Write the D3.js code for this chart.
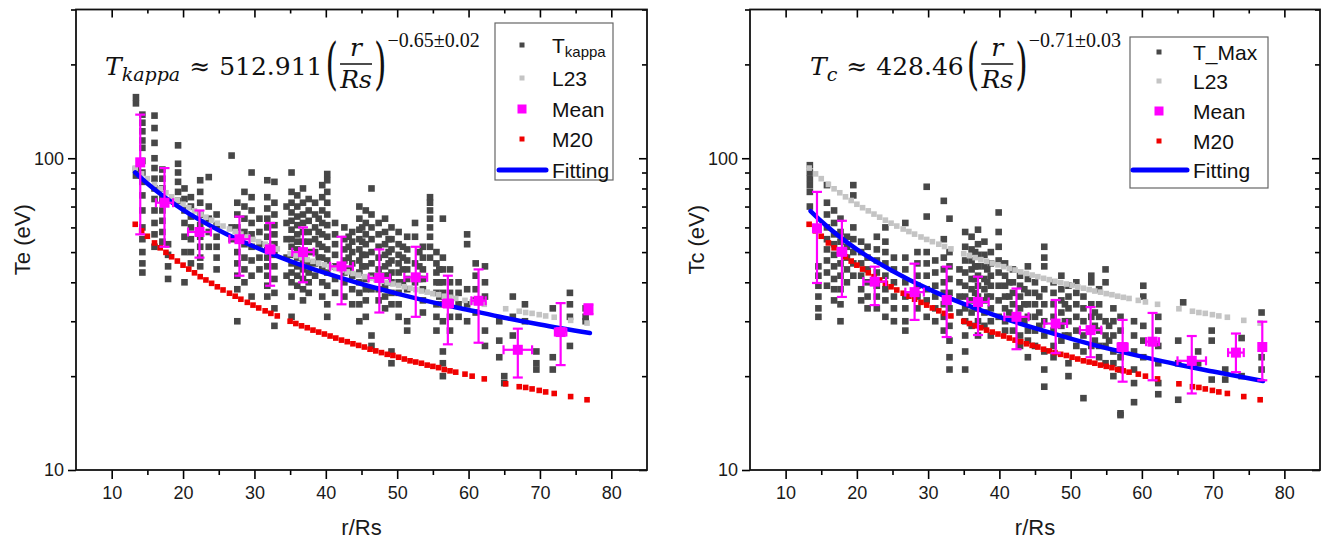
<!DOCTYPE html>
<html><head><meta charset="utf-8">
<script src="https://cdn.jsdelivr.net/npm/d3@7"></script>
<style>
body{margin:0;background:#fff;}
svg{display:block;}
text{font-family:"Liberation Sans",Arial,sans-serif;}
</style>
</head><body>
<svg id="c" width="1325" height="542"></svg>
<script>
// ---------------- DATA ----------------
const xMajorTicks = [10,20,30,40,50,60,70,80];
const xMinorTicks = [15,25,35,45,55,65,75];
const yMajorTicks = [10,100];
const yMinorTicks = [20,30,40,50,60,70,80,90,200,300];

// model radii (r/Rs) at which L23 and M20 are shown
const rModel = [13.3,14.2,15.0,16.0,16.8,17.6,18.4,19.2,20.0,20.8,21.6,22.4,23.2,24.0,24.8,25.6,26.5,27.3,28.1,29.0,29.8,30.6,31.5,32.3,33.2,35.0,35.8,36.6,37.4,38.2,39.0,39.8,40.6,41.4,42.2,43.0,43.8,44.6,45.4,46.2,47.0,47.8,48.6,49.4,50.2,51.0,51.8,52.6,53.4,54.2,55.0,55.8,56.6,57.4,58.2,59.5,60.5,62.2,65.2,67.1,68.0,68.9,69.9,70.8,72.0,74.3,76.6];
const l23Values = [93.0,89.1,86.0,82.4,79.8,77.5,75.2,73.2,71.2,69.4,67.8,66.2,64.7,63.3,61.9,60.6,59.3,58.2,57.1,55.9,54.9,54.0,53.0,52.1,51.2,49.4,48.7,48.0,47.3,46.7,46.1,45.5,44.9,44.3,43.8,43.2,42.7,42.2,41.7,41.2,40.8,40.3,39.9,39.5,39.1,38.7,38.3,37.9,37.5,37.2,36.8,36.5,36.1,35.8,35.5,35.0,34.6,34.0,32.9,32.3,32.0,31.8,31.5,31.2,30.9,30.2,29.6];
const m20Values = [61.4,58.5,56.2,53.5,51.6,49.9,48.3,46.8,45.4,44.1,42.9,41.7,40.7,39.7,38.7,37.8,36.9,36.1,35.3,34.5,33.8,33.1,32.4,31.8,31.2,30.0,29.5,29.0,28.6,28.1,27.7,27.3,26.9,26.5,26.1,25.8,25.4,25.1,24.8,24.4,24.1,23.8,23.5,23.3,23.0,22.7,22.4,22.2,22.0,21.7,21.5,21.3,21.0,20.8,20.6,20.3,20.0,19.6,18.9,18.5,18.4,18.2,18.0,17.8,17.6,17.2,16.8];

// observed T_kappa (left): [r, [T values]]
const tkappaColumns = [
 [13.4,[157,150,92,88]],
 [14.3,[138,130,122,114,108,98,90,84,76,68,60,55,50,46,43]],
 [16.0,[137,125,112,100,93,86,80,74,68,62,57,52]],
 [17.1,[92,86,80,74,68,63,58,54]],
 [17.9,[53,49,45,41]],
 [19.3,[110,96,90,84,78,73]],
 [20.2,[80,74,68,62,56,50,40]],
 [21.1,[75,70,65,60,55,50,46]],
 [22.4,[85,78,72,66,61,56,52,48,45]],
 [23.6,[87,70,64,58,52]],
 [24.7,[66,61,56,52,48,44]],
 [26.8,[102,60,55]],
 [27.6,[72,66,60,55,50,46,42,38,30]],
 [28.6,[78,70,64,58,53,48,44,40]],
 [29.6,[90,75,68,62,57,52,47,42,36]],
 [30.7,[64,58,53,48,44]],
 [31.8,[85,75,69,64,60,56,52,48,45,42,39,36]],
 [32.8,[84,72,66,61,57,53,49,45,41,37,33,29]],
 [34.5,[70,62,55,48,42]],
 [35.2,[90,78,72,67,63,59,55,52,49,46,43,40,36,31]],
 [36.0,[76,70,65,61,57,54,51,48,45,42,39]],
 [36.8,[80,72,66,62,58,54,50,47,44,41,38,35]],
 [37.6,[74,68,63,58,54,50,46,43,40,37]],
 [38.5,[72,66,60,55,50,46,42]],
 [39.0,[64,58,53,48]],
 [39.5,[82,75,68,62,57,52,48,44,40,36]],
 [40.2,[89,85,78,72,66,61,56,51,47,43,39,34,31]],
 [41.3,[62,57,53,49,45,41,37]],
 [42.6,[60,55,51,47,43,40,36]],
 [43.2,[56,52,48,44]],
 [43.7,[58,54,50,46,42,38,34]],
 [44.7,[70,64,59,55,51,47,43,40,37,34,30]],
 [45.1,[60,54,49,45]],
 [45.6,[68,62,57,53,49,45,41,38,35,31]],
 [46.4,[80,66,60,55,50,46,42,38,27,25]],
 [47.4,[62,57,52,48,44,41,38,35]],
 [48.3,[64,58,53,49,45,42,39,36,33]],
 [48.8,[55,50,46,42]],
 [49.2,[60,55,51,47,43,40,37,34,24,22]],
 [50.2,[58,53,49,46,43,40,37,34,31]],
 [50.8,[52,48,44,40]],
 [51.4,[56,51,47,44,41,38,30,28]],
 [52.5,[62,56,46,40]],
 [53.1,[50,45,41]],
 [53.6,[52,48,44,41,38,35,32]],
 [54.6,[75,72,68,64,60,56,52,48]],
 [55.5,[50,46,43,40,37,34,31,28]],
 [55.9,[44,40,36]],
 [56.4,[64,48,44,40,37,34,30,24,22,20]],
 [57.4,[44,40,37,34,31,28]],
 [58.6,[40,37,34,31]],
 [59.8,[57,53,38,34,30]],
 [61.0,[46,42,38,35,32]],
 [62.3,[45,40,36,28,25]],
 [64.3,[30,26,23]],
 [65.0,[20,19]],
 [66.2,[36,31,27]],
 [67.9,[34,30]],
 [69.5,[24,22,21]],
 [71.8,[33,23,21]],
 [74.2,[37,34,31,25]],
 [76.4,[33,31,30]]
];

// observed T_Max (right): [r, [T values]]
const tmaxColumns = [
 [13.4,[95,90,86,82,78,70]],
 [14.6,[45,42,39,36,33,31]],
 [15.8,[82,72,66,60,55,51,47,43,39]],
 [16.8,[68,62,57,53,49,45,41,38,35]],
 [17.7,[64,58,54,50,46,42,38,34,30]],
 [18.6,[56,52,48,44,40]],
 [19.5,[82,76,60,55,50,46,42]],
 [20.6,[54,50,46,42,38,35]],
 [21.5,[52,48,44,40,36,33]],
 [22.8,[56,51,47,43,39,36,33]],
 [24.0,[60,54,50,46,42,38,35,31]],
 [25.2,[48,44,40,36,33,30]],
 [26.8,[62,48,44,40,36,33,30,28]],
 [28.5,[50,46,42,39,36,33]],
 [29.8,[81,65,50,46,42,38,35,31]],
 [31.0,[47,43,39,36,33,30]],
 [32.2,[73,55,48,44,40,37,34,31,28]],
 [33.0,[64,50,45,41,37,33,29,26,23,21]],
 [34.4,[44,40,36,32]],
 [35.2,[58,52,47,43,39,36,33,30,27,24,21]],
 [36.1,[56,51,47,44,41,38,35,32,29]],
 [36.6,[50,45,41,37,33]],
 [37.0,[59,53,49,45,42,39,36,33,30,27]],
 [37.9,[54,49,45,41,38,35,32,29]],
 [38.3,[44,40,36]],
 [38.8,[50,46,42,39,36,33,30,27]],
 [39.9,[67,58,52,47,43,39,35,31]],
 [40.8,[46,42,39,36,33,30,28]],
 [41.4,[40,36,32]],
 [41.9,[44,40,37,34,31,28]],
 [42.9,[42,39,36,33,30,27,25]],
 [43.5,[38,34,30]],
 [44.0,[45,41,37,34,31,28,26,23]],
 [45.0,[40,37,34,31,28,25]],
 [45.6,[36,32,29]],
 [46.3,[52,48,45,38,34,30,27,24,21,18.5]],
 [47.6,[40,37,34,31,28,25,23]],
 [48.7,[42,38,35,32,29,26]],
 [49.2,[34,30,27]],
 [49.7,[39,36,33,30,27,22,20]],
 [50.8,[40,37,34,31,28,25]],
 [51.8,[36,33,30,27,24,17]],
 [52.9,[42,40,34,31,28,25]],
 [53.4,[32,29,26]],
 [54.0,[38,34,31,28,25,23]],
 [54.9,[44,40,30,27,25,22]],
 [55.4,[29,26]],
 [56.0,[33,30,27,24,22,20]],
 [57.0,[31,28,25,23,21,15.2,15]],
 [58.9,[30,27,24,21,19,16.5]],
 [60.2,[39,36,29,26,23]],
 [62.3,[31,28,25,22,19,17.5]],
 [65.1,[26,22,16.8]],
 [65.8,[34.5]],
 [67.9,[24,22]],
 [69.8,[28,26,19.5]],
 [71.7,[21,19.5]],
 [74.0,[26.5,20]],
 [76.8,[32,25,23,21]]
];

// binned means with error bars
const meanLeftR   = [14.0,17.4,22.3,27.9,32.2,36.8,42.2,47.5,52.6,57.1,61.4,66.9,72.9,76.8];
const meanLeftT   = [97,72,58,55,51,50,45,41.3,41.5,34.2,34.9,24.3,27.7,32.7];
const meanLeftHi  = [138,93,68,65,62,60,56,51,52,42,44,28.4,34.3,34];
const meanLeftLo  = [57,52,48,42,39,40,34,32,31,25.3,25.6,19.8,21.7,31.6];
const meanLeftXerr= [0.4,1.2,1.6,1.4,0.6,1.5,1.6,1.5,1.6,0.7,1.0,2.0,0.8,0.3];

const meanRightR   = [14.4,17.9,22.5,28.1,32.6,37.0,42.4,47.9,52.8,57.3,61.5,67.0,73.2,76.9];
const meanRightT   = [59.6,50.1,40.2,37.2,35.1,34.6,31,29.5,28.1,24.8,25.8,22.4,23.8,24.8];
const meanRightHi  = [78,63,44.9,45.9,44.9,41.7,38.2,35.1,33.3,30.3,31.9,26.9,27.4,29.9];
const meanRightLo  = [39.8,35.9,33.8,30.3,26.7,27.1,24.4,23.7,23,19.2,19.4,17.6,20.6,19.4];
const meanRightXerr= [0.4,0.6,1.6,1.3,0.5,1.5,1.7,1.6,1.5,0.7,0.9,2.0,1.1,0.3];

// fitted curves
const fitLeftR  = [13.3,15,20,25,30,35,40,45,50,55,60,65,70,77];
const fitLeftT  = [90,83,68.3,58.8,52,46.8,42.8,39.5,36.8,34.5,32.6,30.8,29.3,27.5];
const fitRightR = [13.5,15,20,25,30,35,40,45,50,55,60,65,70,77];
const fitRightT = [67.7,62.8,51,43.5,38.1,34.1,31,28.5,26.4,24.6,23.1,21.8,20.7,19.3];

const legendLeft  = ["T", "L23", "Mean", "M20", "Fitting"];
const legendRight = ["T_Max", "L23", "Mean", "M20", "Fitting"];

// ---------------- DRAW ----------------
const svg = d3.select("#c");
const C = {dark:"#474747", light:"#c4c4c4", mean:"#ff00ff", m20:"#f00000", fit:"#0000ff"};

function drawPanel(o) {
  const g = svg.append("g");
  const x = d3.scaleLinear().domain([5,85]).range([o.x0, o.x1]);
  const y = d3.scaleLog().domain([10,300]).range([470, 9.5]);
  const Y0 = 470, Y1 = 9.5;

  const pts = [];
  o.cols.forEach(([r, vs]) => vs.forEach(v => pts.push([r, v])));
  g.append("g").selectAll("rect").data(pts).join("rect")
    .attr("x", d => x(d[0]) - 3.3).attr("y", d => y(d[1]) - 3.3)
    .attr("width", 6.6).attr("height", 6.6).attr("fill", C.dark);

  g.append("g").selectAll("rect").data(rModel.map((r,i)=>[r,l23Values[i]])).join("rect")
    .attr("x", d => x(d[0]) - 2.8).attr("y", d => y(d[1]) - 2.8)
    .attr("width", 5.6).attr("height", 5.6).attr("fill", C.light);
  g.append("g").selectAll("rect").data(rModel.map((r,i)=>[r,m20Values[i]])).join("rect")
    .attr("x", d => x(d[0]) - 2.8).attr("y", d => y(d[1]) - 2.8)
    .attr("width", 5.6).attr("height", 5.6).attr("fill", C.m20);

  const line = d3.line().x(d => x(d[0])).y(d => y(d[1])).curve(d3.curveMonotoneX);
  g.append("path").datum(o.fitR.map((r,i)=>[r,o.fitT[i]]))
    .attr("d", line).attr("fill","none").attr("stroke",C.fit).attr("stroke-width",4.5).attr("stroke-linecap","round");

  const md = o.mR.map((r,i)=>({r, t:o.mT[i], hi:o.mHi[i], lo:o.mLo[i], xe:o.mXe[i]}));
  const mg = g.append("g").attr("stroke", C.mean).attr("stroke-width", 2.2).attr("fill","none");
  md.forEach(d => {
    const cx = x(d.r), cy = y(d.t);
    mg.append("line").attr("x1",cx).attr("x2",cx).attr("y1",y(d.hi)).attr("y2",y(d.lo));
    mg.append("line").attr("x1",cx-5).attr("x2",cx+5).attr("y1",y(d.hi)).attr("y2",y(d.hi));
    mg.append("line").attr("x1",cx-5).attr("x2",cx+5).attr("y1",y(d.lo)).attr("y2",y(d.lo));
    const xl = x(d.r - d.xe), xr = x(d.r + d.xe);
    mg.append("line").attr("x1",xl).attr("x2",xr).attr("y1",cy).attr("y2",cy);
    mg.append("line").attr("x1",xl).attr("x2",xl).attr("y1",cy-4.5).attr("y2",cy+4.5);
    mg.append("line").attr("x1",xr).attr("x2",xr).attr("y1",cy-4.5).attr("y2",cy+4.5);
  });
  g.append("g").selectAll("rect").data(md).join("rect")
    .attr("x", d => x(d.r) - 5).attr("y", d => y(d.t) - 5)
    .attr("width", 10).attr("height", 10).attr("fill", C.mean);

  const styleAx = (sel, fs) => {
    sel.select(".domain").remove();
    sel.selectAll(".tick line").attr("stroke","#000").attr("stroke-width",1.6);
    sel.selectAll(".tick text").attr("fill","#1a1a1a").style("font-size", fs+"px").style("font-family",'"Liberation Sans",Arial,sans-serif');
  };
  g.append("g").attr("transform",`translate(0,${Y0})`)
    .call(d3.axisBottom(x).tickValues(xMajorTicks).tickSize(9).tickPadding(7).tickFormat(d3.format("d")))
    .call(s => styleAx(s, 18));
  g.append("g").attr("transform",`translate(0,${Y0})`)
    .call(d3.axisBottom(x).tickValues(xMinorTicks).tickSize(5).tickFormat(""))
    .call(s => styleAx(s, 18));
  g.append("g").attr("transform",`translate(0,${Y1})`)
    .call(d3.axisBottom(x).tickValues(xMajorTicks).tickSize(8).tickFormat(""))
    .call(s => styleAx(s, 18));
  g.append("g").attr("transform",`translate(0,${Y1})`)
    .call(d3.axisBottom(x).tickValues(xMinorTicks).tickSize(4).tickFormat(""))
    .call(s => styleAx(s, 18));
  g.append("g").attr("transform",`translate(${o.x0},0)`)
    .call(d3.axisLeft(y).tickValues(yMajorTicks).tickSize(8).tickPadding(4).tickFormat(d3.format("d")))
    .call(s => styleAx(s, 18));
  g.append("g").attr("transform",`translate(${o.x0},0)`)
    .call(d3.axisLeft(y).tickValues(yMinorTicks).tickSize(5).tickFormat(""))
    .call(s => styleAx(s, 18));
  g.append("g").attr("transform",`translate(${o.x1},0)`)
    .call(d3.axisLeft(y).tickValues(yMajorTicks).tickSize(8).tickFormat(""))
    .call(s => styleAx(s, 18));
  g.append("g").attr("transform",`translate(${o.x1},0)`)
    .call(d3.axisLeft(y).tickValues(yMinorTicks).tickSize(5).tickFormat(""))
    .call(s => styleAx(s, 18));
  g.append("rect").attr("x",o.x0).attr("y",Y1).attr("width",o.x1-o.x0).attr("height",Y0-Y1)
    .attr("fill","none").attr("stroke","#111").attr("stroke-width",1.8);

  g.append("text").attr("x",(o.x0+o.x1)/2).attr("y",535).attr("text-anchor","middle")
    .style("font-size","22px").attr("fill","#1a1a1a").text("r/Rs");
  g.append("text").attr("transform",`translate(${o.x0-54},${(Y0+Y1)/2}) rotate(-90)`)
    .attr("text-anchor","middle").attr("dy","0.35em")
    .style("font-size","22px").attr("fill","#1a1a1a").text(o.ytitle);

  const L = o.leg;
  g.append("rect").attr("x",L.x).attr("y",L.y).attr("width",L.w).attr("height",L.h)
    .attr("fill","#fff").attr("stroke","#666").attr("stroke-width",1.2);
  const rows = L.rows;
  const lg = g.append("g");
  const mk = [[C.dark,5],[C.light,5],[C.mean,9],[C.m20,5]];
  mk.forEach((m,i) => {
    lg.append("rect").attr("x",L.mx-m[1]/2).attr("y",rows[i]-m[1]/2).attr("width",m[1]).attr("height",m[1]).attr("fill",m[0]);
  });
  lg.append("line").attr("x1",L.lx0).attr("x2",L.lx1).attr("y1",rows[4]).attr("y2",rows[4])
    .attr("stroke",C.fit).attr("stroke-width",5).attr("stroke-linecap","round");
  o.legendNames.forEach((t,i) => {
    const tx = lg.append("text").attr("x",L.tx).attr("y",rows[i]).attr("dy","0.36em")
      .style("font-size","21px").attr("fill","#111");
    if (i === 0 && o.sub0) {
      tx.append("tspan").text(t);
      tx.append("tspan").attr("dy","0.3em").style("font-size","15px").text(o.sub0);
    } else tx.text(t);
  });

  drawFormula(g, o.f);
}

function drawFormula(g, f) {
  const serif = '"DejaVu Serif", serif';
  const B = 75;
  let x = f.x;
  const put = (txt, size, italic, yy, fam) => {
    const t = g.append("text").attr("x", x).attr("y", yy).style("font-family", fam || serif)
      .style("font-size", size+"px").style("font-style", italic ? "italic" : "normal").attr("fill","#111").text(txt);
    return t.node().getComputedTextLength();
  };
  x += put("T", 25, true, B);
  x += put(f.sub, 19, true, B + 6) + 9;
  x += put("\u2248", 25, false, B) + 9;
  x += put(f.coef, 25, false, B) + 3;
  const pl = g.append("text").attr("transform",`translate(${x},${B+8}) scale(1,1.75)`)
    .style("font-family",serif).style("font-size","32px").attr("fill","#111").text("(");
  x += pl.node().getComputedTextLength() + 1;
  const fw = 34, fc = x + fw/2;
  g.append("text").attr("x",fc).attr("y",B-19).attr("text-anchor","middle").style("font-family",serif)
    .style("font-size","25px").style("font-style","italic").attr("fill","#111").text("r");
  g.append("line").attr("x1",x+1).attr("x2",x+fw-1).attr("y1",B-11).attr("y2",B-11).attr("stroke","#111").attr("stroke-width",1.5);
  g.append("text").attr("x",fc).attr("y",B+13).attr("text-anchor","middle").style("font-family",serif)
    .style("font-size","25px").style("font-style","italic").attr("fill","#111").text("Rs");
  x += fw + 1;
  const pr = g.append("text").attr("transform",`translate(${x},${B+8}) scale(1,1.75)`)
    .style("font-family",serif).style("font-size","32px").attr("fill","#111").text(")");
  x += pr.node().getComputedTextLength() + 1;
  put(f.sup, 20, false, B - 28, '"Liberation Serif", serif');
}

drawPanel({
  x0: 76, x1: 647, cols: tkappaColumns,
  mR: meanLeftR, mT: meanLeftT, mHi: meanLeftHi, mLo: meanLeftLo, mXe: meanLeftXerr,
  fitR: fitLeftR, fitT: fitLeftT, ytitle: "Te (eV)",
  leg: {x:495, y:23, w:118, h:157, rows:[45,78,109,139,170], mx:522, lx0:499, lx1:546, tx:552},
  legendNames: legendLeft, sub0: "kappa",
  f: {x:105, sub:"kappa", coef:"512.911", sup:"\u22120.65\u00B10.02"}
});
drawPanel({
  x0: 750, x1: 1320, cols: tmaxColumns,
  mR: meanRightR, mT: meanRightT, mHi: meanRightHi, mLo: meanRightLo, mXe: meanRightXerr,
  fitR: fitRightR, fitT: fitRightT, ytitle: "Tc (eV)",
  leg: {x:1130, y:37, w:138, h:151, rows:[52,81,111,141,170], mx:1159, lx0:1133, lx1:1187, tx:1193},
  legendNames: legendRight, sub0: null,
  f: {x:810, sub:"c", coef:"428.46", sup:"\u22120.71\u00B10.03"}
});
</script>
</body></html>
